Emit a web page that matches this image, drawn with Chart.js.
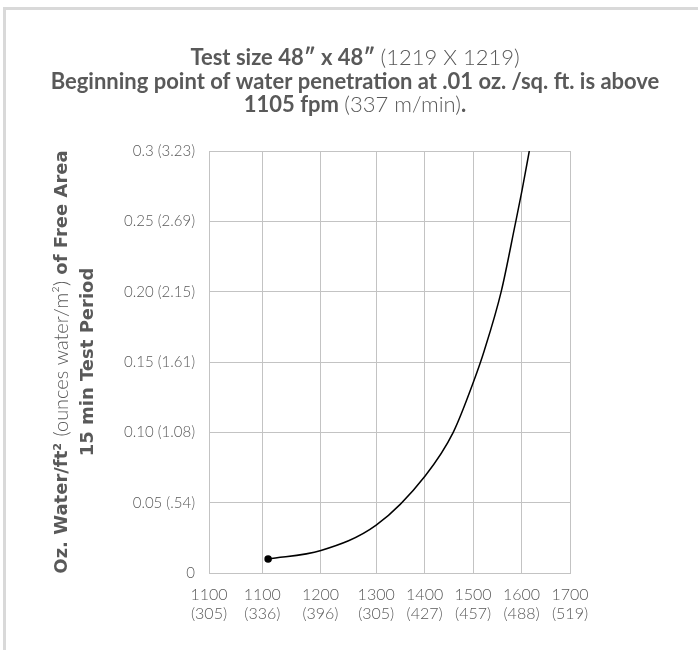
<!DOCTYPE html>
<html>
<head>
<meta charset="utf-8">
<script src="https://cdn.jsdelivr.net/npm/chart.js@4"></script>
<style>
  html, body { margin: 0; padding: 0; background: #fff; }
  #wrap { position: relative; width: 698px; height: 650px; overflow: hidden; }
  #frame { position: absolute; left: 3px; top: 7px; width: 800px; height: 800px;
           border-top: 3px solid #d9d9d9; border-left: 3px solid #d9d9d9; }
  canvas { position: absolute; left: 0; top: 0; }
</style>
</head>
<body>
<div id="wrap">
  <div id="frame"></div>
  <canvas id="chart" width="698" height="650"></canvas>
</div>
<script>
// axis ticks (x ticks sit where the picture puts them, labels are as printed)
const xTickValues = [955, 1065, 1185, 1300, 1400, 1500, 1600, 1700];
const xTickLabels = [
  ["1100", "(305)"], ["1100", "(336)"], ["1200", "(396)"], ["1300", "(305)"],
  ["1400", "(427)"], ["1500", "(457)"], ["1600", "(488)"], ["1700", "(519)"]
];
const yTickValues = [0, 0.05, 0.10, 0.15, 0.20, 0.25, 0.30];
const yTickLabels = ["0", "0.05 (.54)", "0.10 (1.08)", "0.15 (1.61)", "0.20 (2.15)", "0.25 (2.69)", "0.3 (3.23)"];

// curve
const curveX = [1077, 1186, 1300, 1401, 1459, 1502, 1523, 1558, 1587, 1601, 1616];
const curveY = [0.010, 0.016, 0.034, 0.069, 0.100, 0.137, 0.158, 0.200, 0.248, 0.272, 0.300];

const titleLines = [
  [["Test size 48\u2033 x 48\u2033 ", "b"], ["(1219 X 1219)", "l"]],
  [["Beginning point of water penetration at .01 oz. /sq. ft. is above", "b"]],
  [["1105 fpm ", "b"], ["(337 m/min)", "l"], [".", "b"]]
];
const yTitleLines = [
  [["Oz. Water/ft\u00b2 ", "yb"], ["(ounces water/m\u00b2)", "yl"], [" of Free Area", "yb"]],
  [["15 min Test Period", "yb"]]
];

const TEXT = "#595959";
const GRID = "#c3c3c3";
const fonts = {
  b: "bold 22px Lato",
  l: "300 22px Lato",
  yb: "bold 18px 'DejaVu Sans'",
  yl: "300 20px Lato"
};

function drawRich(ctx, segs, cx, cy) {
  let total = 0;
  segs.forEach(s => { ctx.font = fonts[s[1]]; total += ctx.measureText(s[0]).width; });
  let x = cx - total / 2;
  segs.forEach(s => {
    ctx.font = fonts[s[1]];
    ctx.fillText(s[0], x, cy);
    x += ctx.measureText(s[0]).width;
  });
}

const textPlugin = {
  id: "richText",
  afterDraw(chart) {
    const ctx = chart.ctx;
    ctx.save();
    ctx.fillStyle = TEXT;
    ctx.textBaseline = "middle";
    ctx.textAlign = "left";
    const titleY = [58, 82, 105];
    titleLines.forEach((line, i) => drawRich(ctx, line, 355, titleY[i]));

    const midY = (chart.chartArea.top + chart.chartArea.bottom) / 2;
    const yTitleX = [62, 88];
    yTitleLines.forEach((line, i) => {
      ctx.save();
      ctx.translate(yTitleX[i], midY);
      ctx.rotate(-Math.PI / 2);
      drawRich(ctx, line, 0, 0);
      ctx.restore();
    });
    ctx.restore();
  }
};

new Chart(document.getElementById("chart"), {
  type: "line",
  data: {
    datasets: [{
      data: curveX.map((x, i) => ({ x: x, y: curveY[i] })),
      borderColor: "#000",
      borderWidth: 1.5,
      cubicInterpolationMode: "monotone",
      pointRadius: curveX.map((x, i) => i === 0 ? 3 : 0),
      pointBackgroundColor: "#000",
      pointBorderColor: "#000",
      fill: false
    }]
  },
  options: {
    responsive: false,
    animation: false,
    devicePixelRatio: 1,
    layout: { padding: { top: 151, right: 128, left: 0, bottom: 0 } },
    plugins: { legend: { display: false }, tooltip: { enabled: false }, title: { display: false } },
    scales: {
      x: {
        type: "linear",
        min: xTickValues[0],
        max: xTickValues[xTickValues.length - 1],
        afterBuildTicks: s => { s.ticks = xTickValues.map(v => ({ value: v })); },
        afterFit: s => { s.height = 77; },
        grid: { color: GRID, drawTicks: false },
        border: { color: GRID },
        ticks: {
          autoSkip: false, maxRotation: 0, padding: 13,
          color: TEXT, font: { family: "Lato", size: 16, weight: "300", lineHeight: 1.15 },
          callback: (v, i) => xTickLabels[i]
        }
      },
      y: {
        min: 0,
        max: 0.3,
        afterBuildTicks: s => { s.ticks = yTickValues.map(v => ({ value: v })); },
        afterFit: s => { s.width = 209; },
        grid: { color: GRID, drawTicks: false },
        border: { color: GRID },
        ticks: {
          padding: 14,
          color: TEXT, font: { family: "Lato", size: 15, weight: "300" },
          callback: (v, i) => yTickLabels[i]
        }
      }
    }
  },
  plugins: [textPlugin]
});
</script>
</body>
</html>
